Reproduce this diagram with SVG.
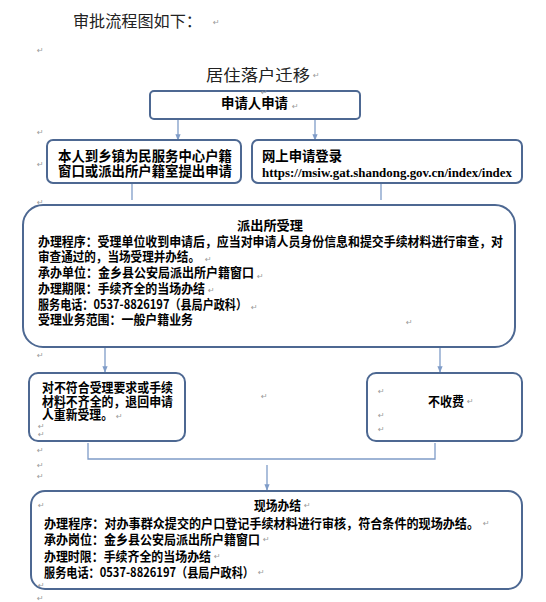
<svg xmlns="http://www.w3.org/2000/svg" width="546" height="602" viewBox="0 0 546 602">
<defs>
<style>
.box{fill:#fff;stroke:#4d6892;stroke-width:2}
.con{fill:none;stroke:#7f9cc8;stroke-width:1.3}
.t{font-family:"Noto Sans CJK SC",sans-serif;font-weight:bold;font-size:13px;fill:#000}
.h{font-family:"Noto Sans CJK SC",sans-serif;font-weight:bold;font-size:14px;fill:#000}
.k{font-family:"Noto Sans CJK SC",sans-serif;font-weight:normal;font-size:16px;fill:#222}
.u{font-family:"Liberation Serif",serif;font-weight:bold;font-size:13px;fill:#000}
.r{font-family:"DejaVu Sans",sans-serif;font-size:8px;fill:#9a9a9a}
</style>
<marker id="ar" viewBox="0 0 10 10" refX="9" refY="5" markerWidth="5" markerHeight="5" orient="auto">
<path d="M0 1 L10 5 L0 9 z" fill="#7f9cc8"/>
</marker>
</defs>
<rect width="546" height="602" fill="#fff"/>

<g id="heading">
<text class="k" x="73" y="27" textLength="129" lengthAdjust="spacingAndGlyphs">审批流程图如下：</text>
<text class="k" x="206" y="81" font-size="17" textLength="104" lengthAdjust="spacingAndGlyphs">居住落户迁移</text>
</g>

<g id="connectors">
<path class="con" d="M178 119 V140" marker-end="url(#ar)"/>
<path class="con" d="M315 119 V140" marker-end="url(#ar)"/>
<path class="con" d="M132 184 V200"/>
<path class="con" d="M381 184 V200"/>
<path class="con" d="M105 348 V372" marker-end="url(#ar)"/>
<path class="con" d="M440 348 V372" marker-end="url(#ar)"/>
<path class="con" d="M88 443 V459 H435 V443"/>
<path class="con" d="M267 465 V490" marker-end="url(#ar)"/>
</g>

<g id="apply">
<rect class="box" x="150" y="91" width="210" height="28" rx="4"/>
<text class="h" x="221" y="108" textLength="67" lengthAdjust="spacingAndGlyphs">申请人申请</text>
</g>

<g id="in-person">
<rect class="box" x="47" y="140" width="194" height="43" rx="6"/>
<text class="h" x="58" y="161" textLength="174" lengthAdjust="spacingAndGlyphs">本人到乡镇为民服务中心户籍</text>
<text class="h" x="58" y="176" textLength="174" lengthAdjust="spacingAndGlyphs">窗口或派出所户籍室提出申请</text>
</g>

<g id="online">
<rect class="box" x="252" y="140" width="270" height="43" rx="6"/>
<text class="h" x="262" y="161" textLength="80" lengthAdjust="spacingAndGlyphs">网上申请登录</text>
<text class="u" x="262" y="177" textLength="250" lengthAdjust="spacingAndGlyphs">https://msiw.gat.shandong.gov.cn/index/index</text>
</g>

<g id="police-accept">
<rect class="box" x="23" y="205" width="492" height="142" rx="20"/>
<text class="t" x="237" y="230" textLength="66" lengthAdjust="spacingAndGlyphs">派出所受理</text>
<text class="t" x="38" y="246" textLength="465" lengthAdjust="spacingAndGlyphs">办理程序：受理单位收到申请后，应当对申请人员身份信息和提交手续材料进行审查，对</text>
<text class="t" x="38" y="261" textLength="162" lengthAdjust="spacingAndGlyphs">审查通过的，当场受理并办结。</text>
<text class="t" x="38" y="277" textLength="216" lengthAdjust="spacingAndGlyphs">承办单位：金乡县公安局派出所户籍窗口</text>
<text class="t" x="38" y="293" textLength="167" lengthAdjust="spacingAndGlyphs">办理期限：手续齐全的当场办结</text>
<text class="t" x="38" y="309" textLength="209" lengthAdjust="spacingAndGlyphs">服务电话：0537-8826197（县局户政科）</text>
<text class="t" x="38" y="324" textLength="155" lengthAdjust="spacingAndGlyphs">受理业务范围：一般户籍业务</text>
</g>

<g id="reject">
<rect class="box" x="29" y="373" width="156" height="68" rx="9"/>
<text class="t" x="42" y="392" font-size="12" textLength="131" lengthAdjust="spacingAndGlyphs">对不符合受理要求或手续</text>
<text class="t" x="42" y="405.5" font-size="12" textLength="131" lengthAdjust="spacingAndGlyphs">材料不齐全的，退回申请</text>
<text class="t" x="42" y="418.5" font-size="12" textLength="71" lengthAdjust="spacingAndGlyphs">人重新受理。</text>
</g>

<g id="no-fee">
<rect class="box" x="367" y="373" width="155" height="68" rx="9"/>
<text class="t" x="428" y="406" textLength="36" lengthAdjust="spacingAndGlyphs">不收费</text>
</g>

<g id="done">
<rect class="box" x="31" y="491" width="491" height="98" rx="14"/>
<text class="t" x="254" y="510" textLength="47" lengthAdjust="spacingAndGlyphs">现场办结</text>
<text class="t" x="44" y="528" textLength="435" lengthAdjust="spacingAndGlyphs">办理程序：对办事群众提交的户口登记手续材料进行审核，符合条件的现场办结。</text>
<text class="t" x="44" y="544" textLength="216" lengthAdjust="spacingAndGlyphs">承办岗位：金乡县公安局派出所户籍窗口</text>
<text class="t" x="44" y="561" textLength="167" lengthAdjust="spacingAndGlyphs">办理时限：手续齐全的当场办结</text>
<text class="t" x="44" y="577" textLength="210" lengthAdjust="spacingAndGlyphs">服务电话：0537-8826197（县局户政科）</text>
</g>

<g id="marks">
<text class="r" x="213" y="25">↵</text>
<text class="r" x="37" y="53">↵</text>
<text class="r" x="313" y="78">↵</text>
<text class="r" x="261" y="95">↵</text>
<text class="r" x="292" y="109">↵</text>
<text class="r" x="37" y="135">↵</text>
<text class="r" x="37" y="167">↵</text>
<text class="r" x="37" y="205">↵</text>
<text class="r" x="205" y="262">↵</text>
<text class="r" x="257" y="279">↵</text>
<text class="r" x="208" y="293">↵</text>
<text class="r" x="251" y="310">↵</text>
<text class="r" x="406" y="325">↵</text>
<text class="r" x="37" y="358">↵</text>
<text class="r" x="261" y="399">↵</text>
<text class="r" x="116" y="419">↵</text>
<text class="r" x="38" y="429">↵</text>
<text class="r" x="38" y="437">↵</text>
<text class="r" x="378" y="394">↵</text>
<text class="r" x="378" y="418">↵</text>
<text class="r" x="378" y="432">↵</text>
<text class="r" x="467" y="404">↵</text>
<text class="r" x="37" y="453">↵</text>
<text class="r" x="37" y="468">↵</text>
<text class="r" x="37" y="479">↵</text>
<text class="r" x="38" y="508">↵</text>
<text class="r" x="304" y="508">↵</text>
<text class="r" x="483" y="526">↵</text>
<text class="r" x="263" y="542">↵</text>
<text class="r" x="214" y="559">↵</text>
<text class="r" x="258" y="575">↵</text>
<text class="r" x="38" y="588">↵</text>
<text class="r" x="37" y="601">↵</text>
</g>
</svg>
